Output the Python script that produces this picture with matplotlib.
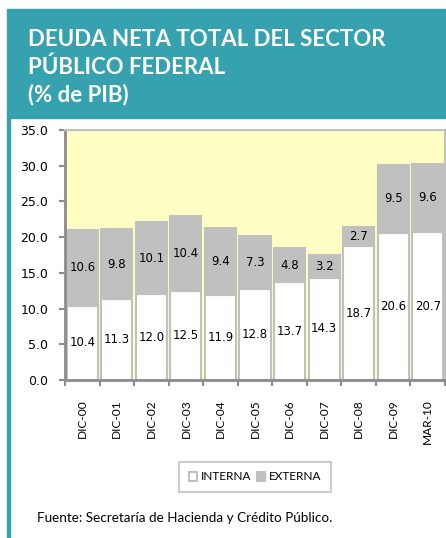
import matplotlib.pyplot as plt
from matplotlib.patches import Rectangle
import numpy as np

periodos = ["DIC-00", "DIC-01", "DIC-02", "DIC-03", "DIC-04", "DIC-05",
            "DIC-06", "DIC-07", "DIC-08", "DIC-09", "MAR-10"]
interna = [10.4, 11.3, 12.0, 12.5, 11.9, 12.8, 13.7, 14.3, 18.7, 20.6, 20.7]
externa = [10.6, 9.8, 10.1, 10.4, 9.4, 7.3, 4.8, 3.2, 2.7, 9.5, 9.6]

TEAL = "#36a2b0"
GRIS = "#c0c0c0"
EJE = "#8c8c8c"
TXT = "Lato"

fig = plt.figure(figsize=(4.46, 5.38), dpi=100)
W, H = 446, 538

# encabezado y borde izquierdo
fig.patches.append(Rectangle((7 / W, 1 - 118 / H), 1 - 7 / W, 109 / H,
                             transform=fig.transFigure, color=TEAL, zorder=0))
fig.patches.append(Rectangle((7 / W, 0), 2.5 / W, 1 - 118 / H,
                             transform=fig.transFigure, color=TEAL, zorder=0))
titulo = ["DEUDA NETA TOTAL DEL SECTOR", "PÚBLICO FEDERAL", "(% de PIB)"]
for i, linea in enumerate(titulo):
    fig.text(28 / W, 1 - (46 + 27.5 * i) / H, linea, color="white",
             fontsize=16, fontweight="bold", family=TXT, va="baseline")

ax = fig.add_axes([65 / W, 1 - 380 / H, 380 / W, 250 / H])
ax.set_facecolor("#ffffc4")
x = np.arange(len(periodos))
b1 = ax.bar(x, interna, width=0.9, color="white", edgecolor=GRIS,
            linewidth=1.5, label="INTERNA")
b2 = ax.bar(x, externa, width=0.9, bottom=interna, color=GRIS,
            edgecolor=GRIS, linewidth=1.5, label="EXTERNA")
for xi, vi, ve in zip(x, interna, externa):
    ax.text(xi, vi / 2, f"{vi:.1f}", ha="center", va="center", fontsize=8.5)
    ax.text(xi, vi + ve / 2, f"{ve:.1f}", ha="center", va="center", fontsize=8.5)

ax.set_xlim(-0.5, len(periodos) - 0.5)
ax.set_ylim(0, 35)
ax.set_yticks(np.arange(0, 35.1, 5))
ax.set_yticklabels([f"{v:.1f}" for v in np.arange(0, 35.1, 5)], fontsize=9)
ax.set_xticks(x)
ax.set_xticklabels(periodos, rotation=90, fontsize=8.6, family=TXT)
ax.set_xticks(np.arange(-0.5, len(periodos)), minor=True)
ax.tick_params(axis="x", which="major", length=0, pad=14)
ax.tick_params(axis="x", which="minor", length=4, color=EJE, width=1.5)
ax.tick_params(axis="y", length=4, color=EJE, width=1.5, pad=8)
for lado in ("left", "bottom"):
    ax.spines[lado].set_color(EJE)
    ax.spines[lado].set_linewidth(2)
for lado in ("top", "right"):
    ax.spines[lado].set_color(GRIS)
    ax.spines[lado].set_linewidth(1.5)

leg = fig.legend(handles=[b1, b2], loc="center", ncol=2,
                 bbox_to_anchor=(255 / W, 1 - 477 / H), frameon=True,
                 fancybox=False, edgecolor=GRIS, handlelength=0.7,
                 handleheight=0.7, handletextpad=0.3, columnspacing=0.5,
                 borderpad=0.8, prop={"family": TXT, "size": 8.5})
leg.get_frame().set_linewidth(1.5)

fig.text(37 / W, 1 - 518 / H, "Fuente: Secretaría de Hacienda y Crédito Público.",
         fontsize=9.7, family=TXT, va="center")

fig.savefig("out.png", dpi=100)
